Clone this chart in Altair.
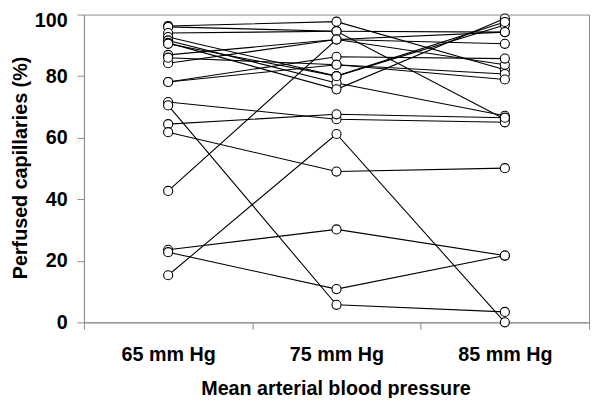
import altair as alt
import pandas as pd

pressures = ["65 mm Hg", "75 mm Hg", "85 mm Hg"]

# perfused capillaries (%) per subject at each pressure level
at65 = [96.3, 96.0, 94.0, 92.7, 91.6, 90.8, 90.5, 86.9, 84.2, 78.1, 78.1, 42.7, 71.6, 70.5, 64.4, 61.8, 23.6, 22.8, 15.3, 86.0]
at75 = [97.7, 94.6, 94.6, 80.0, 77.8, 75.7, 80.0, 91.9, 91.9, 86.3, 83.7, 91.9, 66.0, 5.7, 67.6, 49.0, 30.2, 10.8, 61.2, 83.7]
at85 = [82.1, 66.0, 94.3, 96.6, 67.1, 98.7, 97.6, 83.7, 94.3, 85.7, 80.7, 90.5, 65.0, 3.4, 66.5, 50.1, 21.7, 21.7, 0.0, 78.9]

rows = []
for i, vals in enumerate(zip(at65, at75, at85)):
    for p, v in zip(pressures, vals):
        rows.append({"subject": i, "pressure": p, "value": v})
df = pd.DataFrame(rows)

FONT = "Liberation Sans"
GRAY = "#8c8c8c"

x = alt.X(
    "pressure:N",
    sort=pressures,
    bandPosition=0.5,
    scale=alt.Scale(type="band", paddingInner=0, paddingOuter=0),
    axis=alt.Axis(
        title="Mean arterial blood pressure",
        labelAngle=0,
        tickBand="extent",
        tickSize=7,
        tickColor=GRAY,
        domainColor=GRAY,
        labelFont=FONT,
        labelFontWeight="bold",
        labelFontSize=20,
        labelColor="black",
        labelPadding=16,
        titleFont=FONT,
        titleFontWeight="bold",
        titleFontSize=20,
        titleColor="black",
        titleX=255,
        titleY=73,
        titleBaseline="alphabetic",
        titleAlign="center",
        grid=False,
    ),
)
y = alt.Y(
    "value:Q",
    scale=alt.Scale(domain=[0, 100], nice=False),
    axis=alt.Axis(
        title="Perfused capillaries (%)",
        values=[0, 20, 40, 60, 80, 100],
        tickSize=7,
        tickColor=GRAY,
        domainColor=GRAY,
        labelFont=FONT,
        labelFontWeight="bold",
        labelFontSize=20,
        labelColor="black",
        labelPadding=10,
        labelOffset={"condition": {"test": "datum.value == 100", "value": 6}, "value": 0},
        titleFont=FONT,
        titleFontWeight="bold",
        titleFontSize=20,
        titleColor="black",
        titleX=-58,
        titleY=155,
        titleBaseline="alphabetic",
        titleAlign="center",
        titleAngle=-90,
        grid=False,
    ),
)

lines = alt.Chart(df).mark_line(color="black", strokeWidth=1.1).encode(
    x=x, y=y, detail="subject:N", order=alt.Order("pressure:N")
)
points = alt.Chart(df).mark_point(
    shape="circle", filled=True, fill="white", stroke="black", strokeWidth=1.1, size=85, opacity=1
).encode(x=x, y=y)

chart = (
    alt.layer(lines, points)
    .properties(
        width=512,
        height=312,
        autosize=alt.AutoSizeParams(type="none"),
        padding={"left": 77, "top": 4, "right": 3, "bottom": 74},
        background="white",
    )
    .configure_view(stroke=GRAY, strokeWidth=1)
)

chart.save("out.html", embed_options={"renderer": "svg", "actions": False})
